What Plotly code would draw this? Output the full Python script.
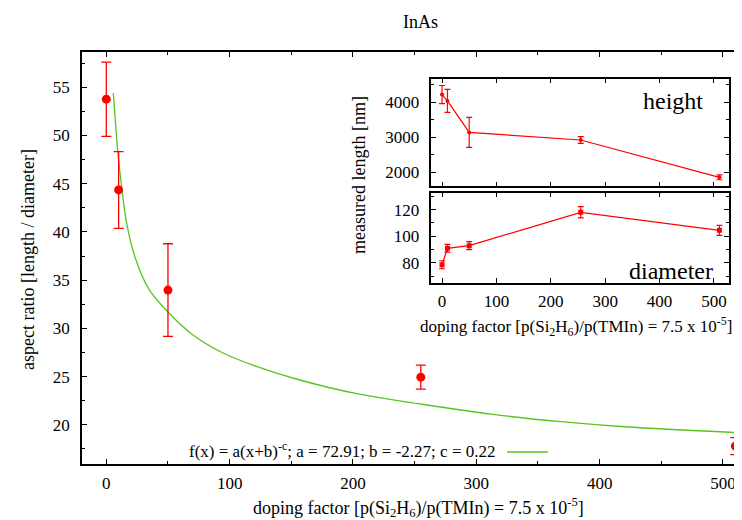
import plotly.graph_objects as go

# ---------------- data ----------------
doping = [0, 10, 50, 255, 510]
aspect = [53.76, 44.35, 33.97, 24.94, 17.8]
aspect_err = [3.85, 3.98, 4.8, 1.24, 0.88]

fit_x = [5.7, 7.6, 9.2, 12.5, 16.8, 23.5, 34.4, 50.0, 69.5, 93.8, 122.9,
         155.4, 204.1, 252.7, 312.2, 366.3, 420.4, 509.5]
fit_y = [54.4, 51.1, 48.5, 44.6, 40.7, 37.3, 34.1, 31.7, 29.4, 27.5, 26.0,
         24.7, 23.2, 22.2, 21.1, 20.35, 19.8, 19.2]

height = [4220, 4040, 3140, 2923, 1857]
height_err = [260, 330, 430, 95, 70]
diameter = [78.7, 91.0, 93.0, 118.0, 104.5]
diameter_err = [3.0, 2.9, 3.0, 4.2, 3.75]

fit_label = "f(x) = a(x+b)<sup>-c</sup>; a = 72.91; b = -2.27; c = 0.22"
x_title = "doping factor [p(Si<sub>2</sub>H<sub>6</sub>)/p(TMIn) = 7.5 x 10<sup>-5</sup>]"
y_title = "aspect ratio [length / diameter]"
inset_y_title = "measured length [nm]"

# ---------------- layout helpers ----------------
W, H = 742, 520
FONT = "Liberation Serif, Times New Roman, Times, serif"
def px(x):
    return x / W
def py(y):
    return 1 - y / H

RED = "#ff0000"
GREEN = "#58c41e"

fig = go.Figure()

fig.add_trace(go.Scatter(x=fit_x, y=fit_y, mode="lines", line=dict(color=GREEN, width=1.3, shape="spline"),
                         xaxis="x", yaxis="y", showlegend=False, hoverinfo="skip"))
fig.add_trace(go.Scatter(x=doping, y=aspect, mode="markers",
                         marker=dict(color=RED, size=9),
                         error_y=dict(type="data", array=aspect_err, color=RED, thickness=1.3, width=5),
                         xaxis="x", yaxis="y", showlegend=False))
fig.add_trace(go.Scatter(x=doping, y=height, mode="lines+markers",
                         line=dict(color=RED, width=1.2), marker=dict(color=RED, size=4),
                         error_y=dict(type="data", array=height_err, color=RED, thickness=1.2, width=3),
                         xaxis="x2", yaxis="y2", showlegend=False))
fig.add_trace(go.Scatter(x=doping, y=diameter, mode="lines+markers",
                         line=dict(color=RED, width=1.2), marker=dict(color=RED, size=5, symbol="square"),
                         error_y=dict(type="data", array=diameter_err, color=RED, thickness=1.2, width=3),
                         xaxis="x3", yaxis="y3", showlegend=False))

tickfont = dict(family=FONT, size=17, color="black")
common = dict(showline=True, linecolor="black", linewidth=1.5, ticks="inside", tickcolor="black",
              tickwidth=1, ticklen=5, showgrid=False, zeroline=False, tickfont=tickfont)

fig.update_layout(
    width=W, height=H, margin=dict(l=0, r=0, t=0, b=0),
    paper_bgcolor="white", plot_bgcolor="white",
    font=dict(family=FONT, size=17, color="black"),
    xaxis=dict(domain=[px(74), 1.0], range=[-19.7, 521.9], anchor="y", tick0=0, dtick=100,
               mirror="allticks", minor=dict(dtick=50, ticklen=3, ticks="inside", tickcolor="black"),
               ticklabelstandoff=3, **common),
    yaxis=dict(domain=[py(456), py(44)], range=[15.94, 58.65], anchor="x", tick0=0, dtick=5,
               mirror=False, minor=dict(dtick=2.5, ticklen=3, ticks="inside", tickcolor="black"),
               ticklabelstandoff=7, **common),
    xaxis2=dict(domain=[px(423.3), px(721)], range=[-19.7, 527.6], anchor="y2", tick0=0, dtick=100,
                mirror="allticks", showticklabels=False, **common),
    yaxis2=dict(domain=[py(178.3), py(70.7)], range=[1600, 4675], anchor="x2", tick0=0, dtick=1000,
                mirror="allticks", minor=dict(dtick=500, ticklen=3, ticks="inside", tickcolor="black"),
                ticklabelstandoff=7, **common),
    xaxis3=dict(domain=[px(423.3), px(721)], range=[-19.7, 527.6], anchor="y3", tick0=0, dtick=100,
                mirror="allticks", ticklabelstandoff=2, **common),
    yaxis3=dict(domain=[py(275), py(184.7)], range=[65, 132.7], anchor="x3", tick0=0, dtick=20,
                mirror="allticks", minor=dict(dtick=10, ticklen=3, ticks="inside", tickcolor="black"),
                ticklabelstandoff=7, **common),
)

def ann(text, x, y, size=18, angle=0, xanchor="center"):
    fig.add_annotation(text=text, x=px(x), y=py(y), xref="paper", yref="paper", showarrow=False,
                       textangle=angle, xanchor=xanchor, yanchor="middle",
                       font=dict(family=FONT, size=size, color="black"))

ann("InAs", 412, 14)
ann(y_title, 20, 252, angle=-90)
ann(x_title, 410, 499)
ann(inset_y_title, 351, 167, angle=-90)
ann(x_title, 568, 318, size=17)
ann("height", 665, 93, size=24)
ann("diameter", 663, 263, size=24)
ann(fit_label, 489, 442, size=17, xanchor="right")
fig.add_shape(type="line", xref="paper", yref="paper", x0=px(499), x1=px(540), y0=py(444), y1=py(444),
              line=dict(color=GREEN, width=1.3))

fig.write_html("out.html")
